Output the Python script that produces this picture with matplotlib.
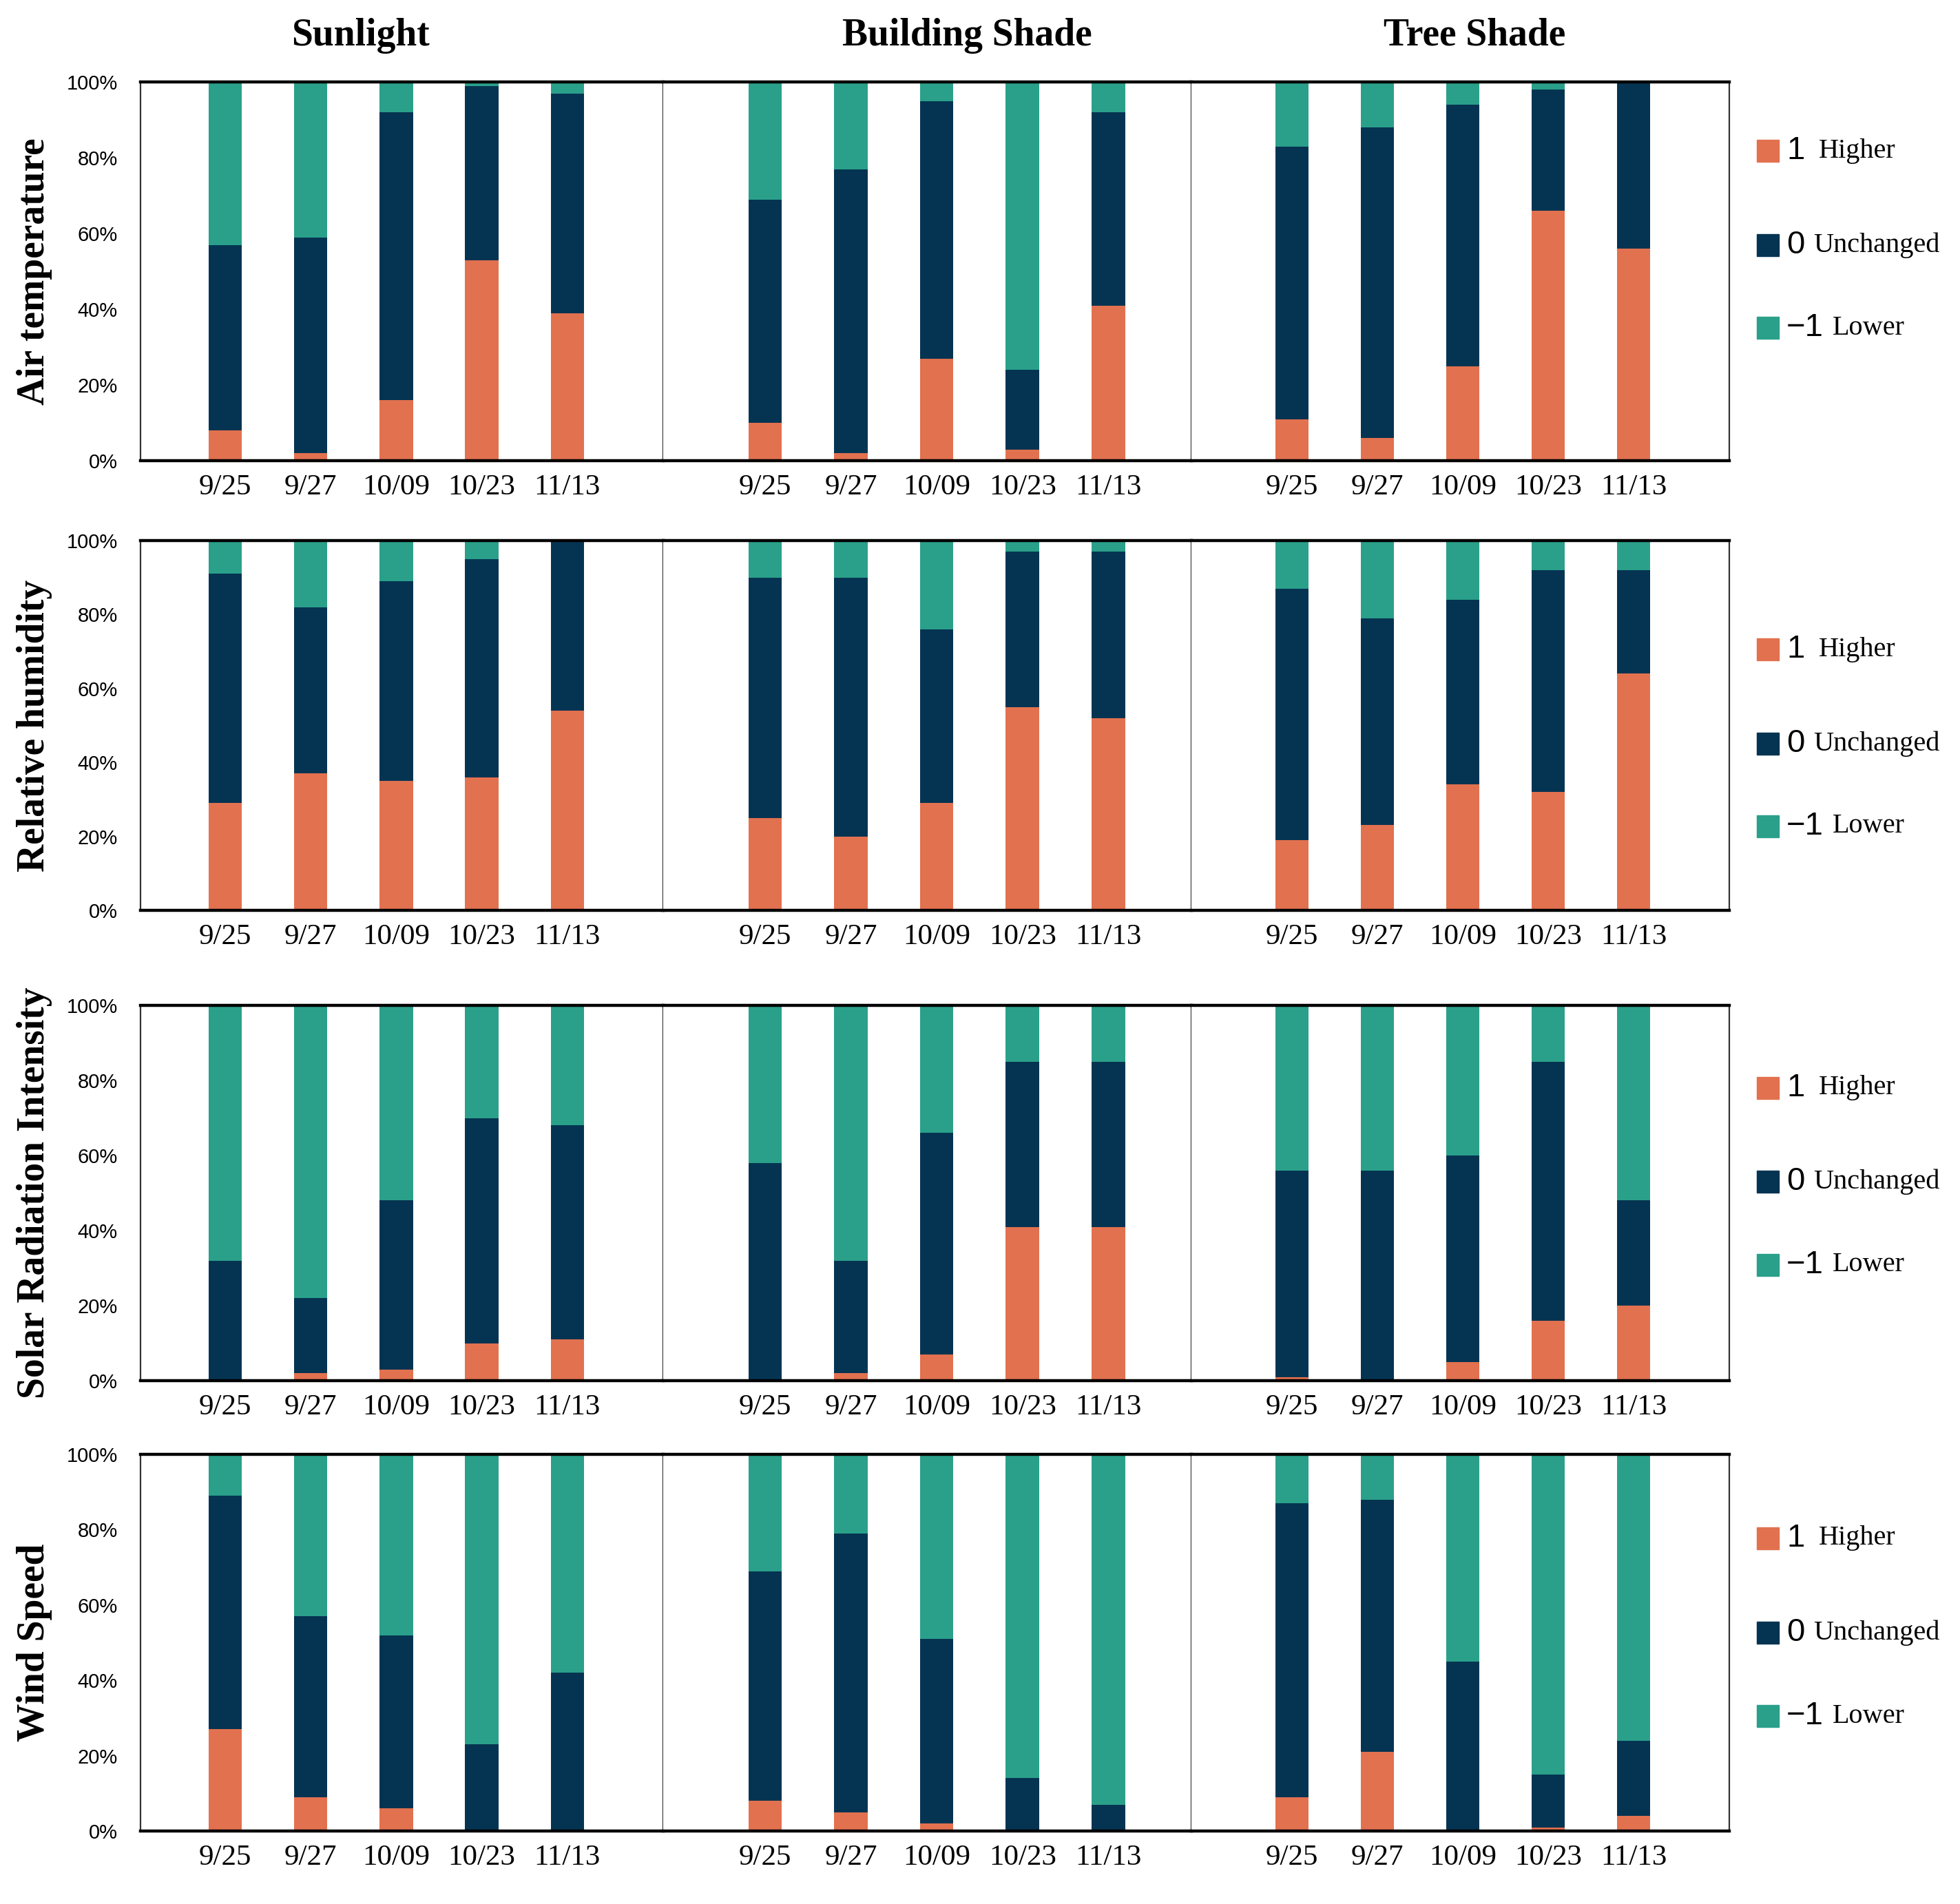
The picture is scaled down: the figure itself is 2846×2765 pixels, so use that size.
import matplotlib
matplotlib.use("Agg")
from matplotlib import pyplot as plt
from matplotlib.patches import Rectangle
import numpy as np

dates = ["9/25", "9/27", "10/09", "10/23", "11/13"]
sites = ["Sunlight", "Building Shade", "Tree Shade"]
variables = ["Air temperature", "Relative humidity", "Solar Radiation Intensity", "Wind Speed"]

# percentages per site (Sunlight, Building Shade, Tree Shade), one list per date
air_higher = [[8, 2, 16, 53, 39], [10, 2, 27, 3, 41], [11, 6, 25, 66, 56]]
air_unchanged = [[49, 57, 76, 46, 58], [59, 75, 68, 21, 51], [72, 82, 69, 32, 44]]
air_lower = [[43, 41, 8, 1, 3], [31, 23, 5, 76, 8], [17, 12, 6, 2, 0]]

rh_higher = [[29, 37, 35, 36, 54], [25, 20, 29, 55, 52], [19, 23, 34, 32, 64]]
rh_unchanged = [[62, 45, 54, 59, 46], [65, 70, 47, 42, 45], [68, 56, 50, 60, 28]]
rh_lower = [[9, 18, 11, 5, 0], [10, 10, 24, 3, 3], [13, 21, 16, 8, 8]]

solar_higher = [[0, 2, 3, 10, 11], [0, 2, 7, 41, 41], [1, 0, 5, 16, 20]]
solar_unchanged = [[32, 20, 45, 60, 57], [58, 30, 59, 44, 44], [55, 56, 55, 69, 28]]
solar_lower = [[68, 78, 52, 30, 32], [42, 68, 34, 15, 15], [44, 44, 40, 15, 52]]

wind_higher = [[27, 9, 6, 0, 0], [8, 5, 2, 0, 0], [9, 21, 0, 1, 4]]
wind_unchanged = [[62, 48, 46, 23, 42], [61, 74, 49, 14, 7], [78, 67, 45, 14, 20]]
wind_lower = [[11, 43, 48, 77, 58], [31, 21, 49, 86, 93], [13, 12, 55, 85, 76]]

legend_nums = ["1", "0", "\u22121"]
legend_words = ["Higher", "Unchanged", "Lower"]

higher = [air_higher, rh_higher, solar_higher, wind_higher]
unchanged = [air_unchanged, rh_unchanged, solar_unchanged, wind_unchanged]
lower = [air_lower, rh_lower, solar_lower, wind_lower]

colors = ["#E2714F", "#053452", "#2AA08A"]
serif = "Liberation Serif"
sans = "Liberation Sans"

W, H = 2846, 2765
fig = plt.figure(figsize=(W / 100, H / 100), dpi=100)

def fx(px):
    return px / W

def fy(py):
    return 1 - py / H

rows = [(119, 669), (785, 1322), (1460, 2005), (2112, 2659)]
cols = [(204, 963), (963, 1730), (1730, 2511)]
xlims = [(-0.99, 5.12), (-1.19, 4.97), (-1.18, 5.12)]
legend_y = [(219, 356, 476), (943, 1080, 1200), (1580, 1716, 1837), (2234, 2371, 2492)]

x = np.arange(len(dates))
for r, (top, bot) in enumerate(rows):
    for c, (left, right) in enumerate(cols):
        ax = fig.add_axes([fx(left), fy(bot), fx(right - left), (bot - top) / H])
        h = np.array(higher[r][c])
        u = np.array(unchanged[r][c])
        l = np.array(lower[r][c])
        ax.bar(x, h, 0.39, color=colors[0])
        ax.bar(x, u, 0.39, bottom=h, color=colors[1])
        ax.bar(x, l, 0.39, bottom=h + u, color=colors[2])
        ax.set_xlim(*xlims[c])
        ax.set_ylim(0, 100)
        ax.set_xticks(x)
        ax.set_xticklabels(dates, fontfamily=serif, fontsize=31)
        ax.set_yticks(range(0, 101, 20))
        if c == 0:
            ax.set_yticklabels(["%d%%" % v for v in range(0, 101, 20)],
                               fontfamily=sans, fontsize=21)
        else:
            ax.set_yticklabels([])
        ax.tick_params(axis="both", length=0)
        ax.tick_params(axis="x", pad=14)
        ax.tick_params(axis="y", pad=24)
        ax.spines["top"].set_linewidth(3.2)
        ax.spines["bottom"].set_linewidth(3.2)
        ax.spines["right"].set_linewidth(1.6)
        ax.spines["right"].set_color("#333333")
        ax.spines["left"].set_linewidth(1.6)
        ax.spines["left"].set_color("#333333")
        if c > 0:
            ax.spines["left"].set_visible(False)

    fig.text(fx(50), fy((top + bot) / 2), variables[r], rotation=90,
             ha="center", va="center", fontfamily=serif, fontweight="bold", fontsize=40)

    # legend on the right of each row
    for k, yy in enumerate(legend_y[r]):
        fig.add_artist(Rectangle((fx(2551), fy(yy + 16)), fx(32), 32 / H,
                                 transform=fig.transFigure, color=colors[k]))
        fig.text(fx(2594), fy(yy), legend_nums[k], ha="left", va="center",
                 fontfamily=sans, fontsize=34)
        word_x = 2641 if k == 0 else (2633 if k == 1 else 2661)
        fig.text(fx(word_x), fy(yy), legend_words[k], ha="left", va="center",
                 fontfamily=serif, fontsize=29)

title_x = [523, 1404, 2141]
for c, name in enumerate(sites):
    fig.text(fx(title_x[c]), fy(52), name, ha="center", va="center",
             fontfamily=serif, fontweight="bold", fontsize=40)

fig.savefig("out.png", dpi=100, facecolor="white")
